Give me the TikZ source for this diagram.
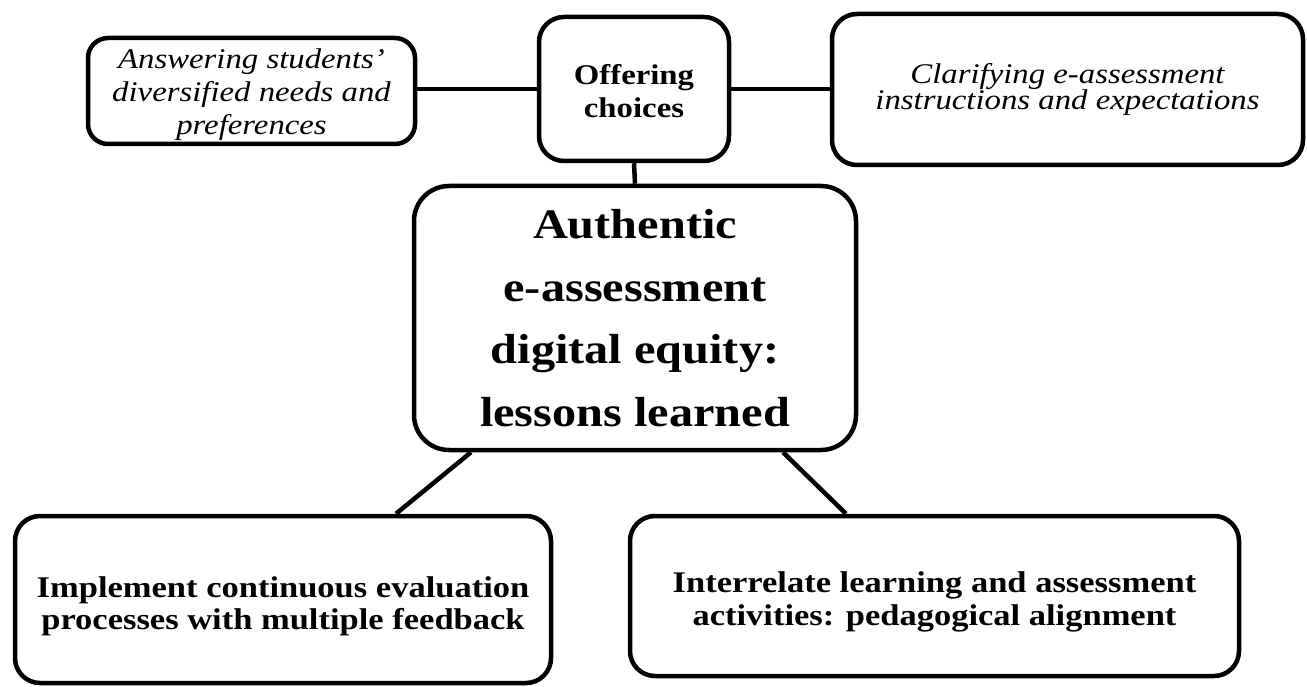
\documentclass[tikz,border=0pt]{standalone}
\usepackage{fontspec}
\setmainfont{Liberation Serif}[FakeStretch=1.15]
\usetikzlibrary{calc}
\tikzset{
  box/.style={draw=black, line width=4.5pt, rounded corners=25pt, fill=white,
    align=center, inner sep=0pt, anchor=center},
  conn/.style={draw=black, line width=4.5pt},
  itsmall/.style={font=\itshape\fontsize{28.5}{33}\selectfont},
}
\newcommand{\lift}[1]{\rule{0pt}{#1pt}}
\begin{document}
\begin{tikzpicture}[x=1pt,y=-1pt]
\useasboundingbox (0,0) rectangle (1307,687);
\node[box, itsmall, rounded corners=20pt, minimum width=327pt, minimum height=106pt]
  (A) at (251.5,91) {\lift{28}Answering students'\\diversified needs and\\preferences};
\node[box, font=\bfseries\fontsize{28.5}{33}\selectfont, minimum width=190pt, minimum height=144pt]
  (B) at (634,89) {\lift{25}Offering\\choices};
\node[box, font=\itshape\fontsize{28.5}{26.5}\selectfont, minimum width=471pt, minimum height=151pt]
  (C) at (1067.5,89.5) {Clarifying e-assessment\\instructions and expectations};
\node[box, font=\bfseries\fontsize{42}{62.7}\selectfont, rounded corners=35pt, minimum width=442pt, minimum height=264pt]
  (M) at (635,318) {Authentic\\e-assessment\\digital equity:\\lessons learned};
\node[box, font=\bfseries\fontsize{30}{31.5}\selectfont, minimum width=536pt, minimum height=167pt]
  (D) at (283,599.5) {\lift{34}Implement continuous evaluation\\processes with multiple feedback};
\node[box, font=\bfseries\fontsize{30}{33}\selectfont, minimum width=609pt, minimum height=160pt]
  (E) at (934.5,596) {\lift{32}Interrelate learning and assessment\\activities: pedagogical alignment};
\draw[conn] (B.west) -- (B.west -| A.east);
\draw[conn] (B.east) -- (B.east -| C.west);
\draw[conn] (B.south) -- (M.north);
\draw[conn] ($(M.south)+(-164,0)$) -- ($(D.north)+(113,0)$);
\draw[conn] ($(M.south)+(148,0)$) -- ($(E.north)+(-88.5,0)$);
\end{tikzpicture}
\end{document}
